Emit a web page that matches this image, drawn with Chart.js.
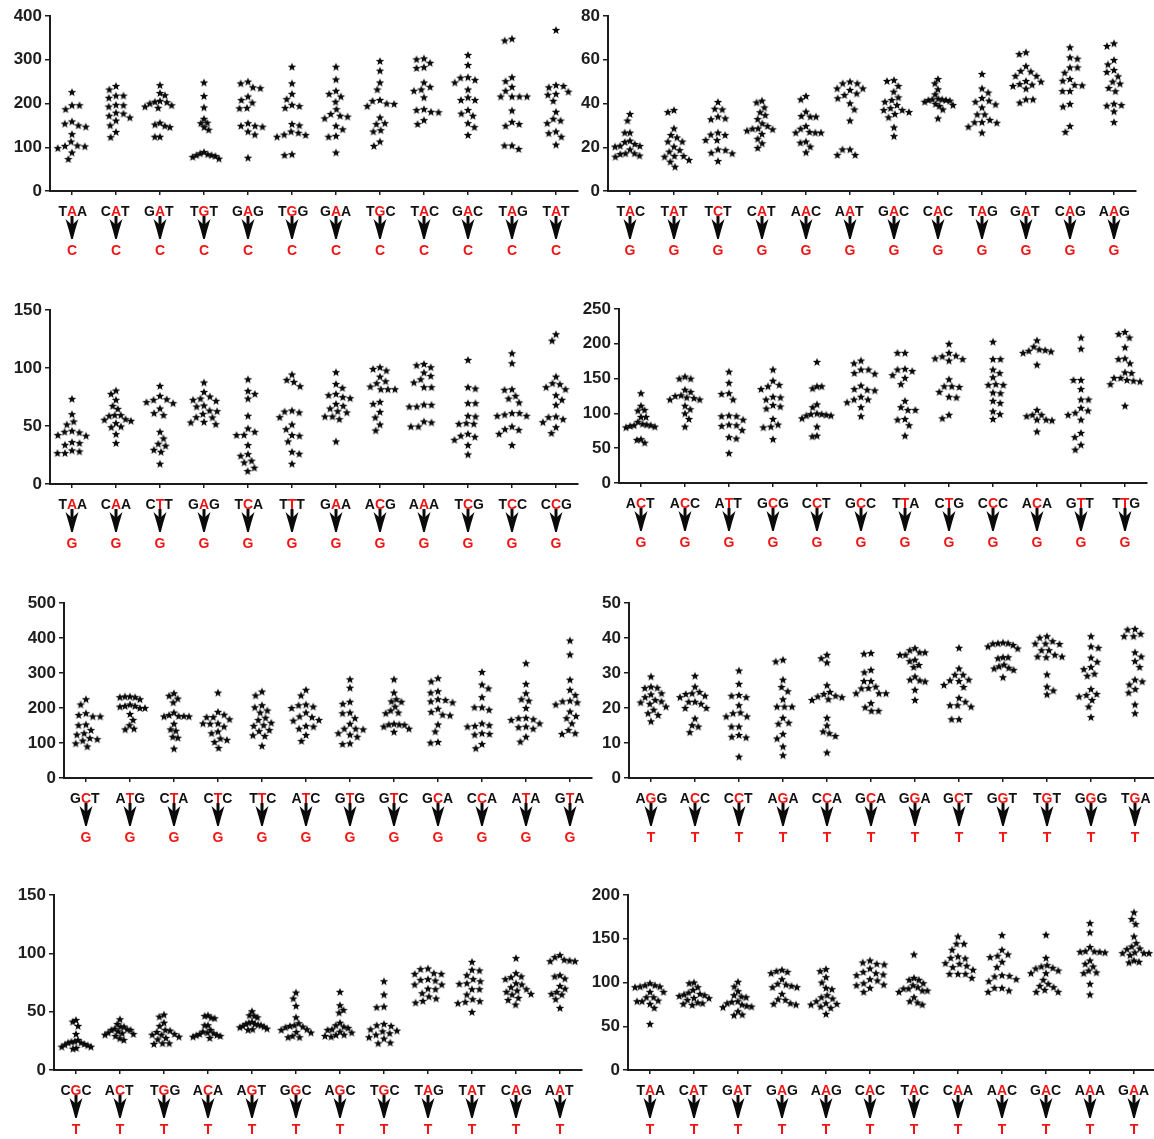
<!DOCTYPE html>
<html>
<head>
<meta charset="utf-8">
<title>Substitution rates by trinucleotide context</title>
<script src="https://cdn.jsdelivr.net/npm/chart.js@4.4.1/dist/chart.umd.min.js"></script>
<style>
  html, body { margin: 0; padding: 0; background: #fff; overflow: hidden; }
  body { width: 1154px; height: 1139px; position: relative; }
  canvas { position: absolute; }
</style>
</head>
<body>
<script>
/* ===== Data ===== */
const p1Codons = ['TAA', 'CAT', 'GAT', 'TGT', 'GAG', 'TGG', 'GAA', 'TGC', 'TAC', 'GAC', 'TAG', 'TAT'];
const p1To = 'C';
const p1Ticks = [0, 100, 200, 300, 400];
const p1Values = [
  [226, 196, 196, 187, 159, 154, 150, 147, 130, 113, 104, 103, 102, 98, 88, 73],
  [240, 232, 218, 213, 218, 196, 193, 197, 179, 177, 172, 168, 161, 150, 135, 123],
  [242, 224, 219, 206, 204, 200, 193, 190, 196, 203, 156, 149, 146, 152, 124, 124],
  [248, 217, 191, 165, 155, 140, 146, 156, 86, 84, 89, 80, 78, 74, 82, 82],
  [250, 246, 237, 235, 216, 208, 202, 190, 189, 155, 149, 147, 149, 136, 129, 76],
  [284, 246, 222, 210, 194, 190, 197, 153, 150, 133, 128, 124, 129, 136, 82, 84],
  [284, 255, 229, 222, 216, 204, 187, 176, 172, 170, 166, 149, 141, 126, 124, 88],
  [297, 275, 248, 232, 208, 200, 194, 199, 206, 168, 155, 153, 139, 136, 113, 103],
  [303, 301, 293, 283, 281, 248, 232, 238, 229, 214, 187, 181, 180, 185, 153, 162],
  [311, 288, 260, 254, 248, 259, 232, 214, 208, 208, 185, 177, 172, 155, 146, 128],
  [344, 348, 260, 251, 238, 229, 216, 216, 216, 216, 184, 153, 149, 158, 104, 96, 104],
  [368, 242, 237, 227, 222, 220, 240, 206, 181, 165, 155, 161, 132, 124, 136, 106]
];

const p2Codons = ['TAC', 'TAT', 'TCT', 'CAT', 'AAC', 'AAT', 'GAC', 'CAC', 'TAG', 'GAT', 'CAG', 'AAG'];
const p2To = 'G';
const p2Ticks = [0, 20, 40, 60, 80];
const p2Values = [
  [35.2, 32.2, 26.7, 26.7, 23.0, 22.4, 21.5, 20.6, 20.3, 20.7, 19.0, 17.2, 16.9, 15.7, 17.2, 16.2],
  [37.0, 36.1, 28.6, 25.6, 24.5, 22.6, 22.6, 20.3, 18.7, 18.0, 16.0, 15.7, 14.2, 13.4, 16.0, 11.1],
  [40.7, 37.3, 37.6, 33.2, 32.8, 34.0, 26.7, 25.6, 25.8, 23.3, 23.3, 19.0, 18.7, 17.5, 17.2, 13.7],
  [41.3, 40.5, 38.2, 34.7, 36.0, 32.9, 30.9, 29.7, 28.5, 28.2, 28.6, 27.6, 26.1, 23.9, 21.8, 19.7],
  [43.4, 41.9, 36.3, 34.0, 34.0, 34.3, 29.7, 28.5, 26.7, 26.7, 26.7, 27.0, 22.6, 22.1, 20.3, 17.7],
  [50.0, 49.2, 46.9, 46.2, 46.9, 49.2, 43.9, 42.4, 44.6, 40.1, 37.3, 32.2, 19.0, 16.5, 16.5, 19.0],
  [50.3, 50.7, 48.0, 45.4, 41.6, 42.8, 40.8, 39.3, 37.9, 37.0, 37.0, 35.2, 33.7, 29.1, 25.1, 36.1],
  [51.2, 49.2, 46.5, 44.2, 41.9, 41.6, 41.3, 41.9, 42.2, 40.8, 39.8, 38.9, 39.3, 37.3, 33.2, 41.6],
  [53.5, 46.9, 45.0, 42.5, 40.8, 39.6, 38.2, 41.3, 35.0, 35.0, 32.5, 31.2, 31.4, 29.4, 31.5, 26.7],
  [62.6, 63.4, 57.1, 54.6, 54.9, 52.6, 52.6, 50.3, 48.9, 48.0, 46.8, 48.6, 50.0, 41.9, 40.4, 41.9],
  [65.7, 61.1, 60.5, 56.5, 56.5, 51.2, 50.4, 54.1, 48.3, 45.7, 45.7, 48.5, 39.8, 38.6, 27.0, 29.7],
  [66.3, 67.5, 59.9, 57.9, 55.3, 54.4, 52.4, 50.0, 49.1, 47.1, 45.6, 39.9, 39.0, 39.3, 36.4, 31.5]
];

const p3Codons = ['TAA', 'CAA', 'CTT', 'GAG', 'TCA', 'TTT', 'GAA', 'ACG', 'AAA', 'TCG', 'TCC', 'CCG'];
const p3To = 'G';
const p3Ticks = [0, 50, 100, 150];
const p3Values = [
  [73.4, 60.2, 53.9, 51.3, 45.9, 44.5, 42.2, 41.6, 45.0, 35.3, 33.8, 36.1, 28.1, 26.7, 26.7, 29.0],
  [80.6, 77.7, 72.6, 67.4, 64.8, 55.9, 55.4, 59.4, 59.4, 58.8, 54.5, 52.5, 49.6, 49.0, 43.0, 35.3],
  [84.6, 76.0, 70.6, 69.7, 72.6, 73.1, 65.1, 61.1, 59.4, 45.0, 39.3, 34.7, 33.0, 29.5, 27.8, 17.5],
  [87.5, 79.4, 72.6, 71.7, 75.4, 73.7, 66.8, 67.7, 63.4, 62.8, 60.5, 57.4, 57.6, 53.6, 53.1, 51.6],
  [90.3, 80.3, 77.7, 73.7, 58.8, 47.9, 42.4, 42.2, 45.0, 33.6, 25.8, 24.4, 18.6, 20.1, 14.1, 11.2],
  [94.4, 88.0, 84.3, 89.8, 62.5, 61.7, 63.4, 57.6, 51.3, 47.3, 42.2, 41.6, 36.7, 27.8, 26.1, 17.5],
  [96.4, 86.3, 82.9, 77.7, 76.6, 74.9, 74.0, 69.1, 67.4, 65.1, 62.8, 61.7, 58.2, 55.9, 58.2, 36.7],
  [100.7, 99.2, 97.8, 92.6, 88.6, 86.9, 84.0, 81.7, 81.7, 81.7, 70.8, 69.1, 62.2, 57.4, 51.3, 46.2],
  [103.5, 102.4, 100.7, 96.1, 93.2, 90.3, 87.5, 83.5, 83.5, 68.3, 66.8, 66.8, 68.5, 53.1, 49.6, 49.6, 53.9],
  [107.0, 83.5, 82.3, 69.7, 69.7, 58.2, 58.8, 51.9, 51.9, 52.5, 43.3, 41.6, 40.7, 38.1, 33.6, 25.5],
  [112.7, 104.1, 81.2, 81.7, 76.0, 73.7, 70.3, 59.9, 58.8, 58.8, 61.1, 61.1, 49.6, 46.7, 43.3, 47.3, 33.6],
  [123.6, 129.1, 92.6, 86.9, 86.0, 83.5, 81.7, 76.6, 72.6, 68.3, 58.2, 57.6, 55.9, 53.3, 49.0, 43.9]
];

const p4Codons = ['ACT', 'ACC', 'ATT', 'GCG', 'CCT', 'GCC', 'TTA', 'CTG', 'CCC', 'ACA', 'GTT', 'TTG'];
const p4To = 'G';
const p4Ticks = [0, 50, 100, 150, 200, 250];
const p4Values = [
  [129, 111, 104, 105, 95, 95, 88, 85, 84, 83, 82, 81, 80, 83, 63, 58, 62],
  [153, 150, 150, 134, 131, 125, 123, 120, 120, 122, 111, 106, 100, 92, 81, 126],
  [160, 144, 129, 128, 120, 96, 96, 97, 91, 84, 83, 82, 76, 66, 64, 43],
  [163, 147, 139, 135, 141, 124, 120, 123, 112, 110, 107, 92, 81, 80, 84, 63],
  [174, 139, 136, 139, 113, 109, 100, 97, 97, 98, 99, 93, 81, 67, 68, 99],
  [176, 172, 163, 158, 157, 163, 140, 135, 133, 134, 120, 120, 116, 109, 96, 124],
  [187, 187, 163, 161, 164, 155, 151, 142, 118, 109, 105, 105, 91, 92, 83, 68],
  [200, 187, 182, 179, 176, 178, 183, 149, 139, 139, 138, 131, 124, 123, 93, 98],
  [203, 178, 178, 163, 158, 152, 141, 141, 142, 129, 130, 118, 115, 103, 99, 92],
  [205, 192, 190, 187, 189, 191, 196, 170, 105, 98, 96, 91, 90, 91, 98, 74],
  [209, 193, 148, 148, 135, 120, 120, 108, 104, 101, 98, 91, 72, 66, 55, 48],
  [217, 214, 209, 195, 179, 178, 172, 159, 158, 151, 148, 147, 142, 146, 151, 111]
];

const p5Codons = ['GCT', 'ATG', 'CTA', 'CTC', 'TTC', 'ATC', 'GTG', 'GTC', 'GCA', 'CCA', 'ATA', 'GTA'];
const p5To = 'G';
const p5Ticks = [0, 100, 200, 300, 400, 500];
const p5Values = [
  [225, 210, 176, 176, 180, 185, 153, 151, 137, 128, 124, 114, 111, 99, 90, 107],
  [233, 231, 225, 231, 233, 206, 204, 200, 200, 206, 183, 166, 151, 141, 139, 210],
  [242, 235, 227, 216, 187, 177, 176, 176, 180, 177, 155, 139, 135, 118, 115, 84],
  [244, 189, 174, 174, 168, 181, 156, 156, 155, 147, 133, 113, 109, 103, 86, 128],
  [247, 236, 208, 202, 193, 187, 172, 166, 158, 151, 149, 137, 134, 122, 120, 92],
  [252, 236, 210, 204, 200, 208, 187, 176, 174, 166, 164, 147, 141, 149, 123, 106],
  [282, 258, 218, 212, 187, 185, 171, 155, 141, 141, 128, 124, 118, 139, 99, 97],
  [282, 244, 225, 218, 219, 204, 193, 185, 187, 153, 147, 152, 153, 141, 132, 155],
  [285, 276, 248, 244, 223, 219, 216, 225, 198, 189, 179, 181, 153, 133, 101, 103],
  [303, 267, 256, 231, 202, 195, 202, 156, 149, 151, 147, 128, 124, 126, 97, 85],
  [328, 269, 242, 225, 221, 200, 171, 166, 168, 172, 145, 141, 147, 156, 118, 104],
  [393, 353, 281, 252, 237, 219, 210, 216, 190, 177, 171, 156, 137, 126, 128, 221]
];

const p6Codons = ['AGG', 'ACC', 'CCT', 'AGA', 'CCA', 'GCA', 'GGA', 'GCT', 'GGT', 'TGT', 'GGG', 'TGA'];
const p6To = 'T';
const p6Ticks = [0, 10, 20, 30, 40, 50];
const p6Values = [
  [29.0, 26.1, 25.7, 25.8, 24.2, 23.9, 23.1, 22.3, 21.9, 21.2, 21.6, 20.4, 19.5, 18.5, 18.0, 16.2],
  [29.2, 26.1, 24.6, 24.2, 23.5, 24.0, 21.8, 21.2, 20.0, 20.0, 17.0, 15.1, 14.7, 13.1, 23.1, 21.8],
  [30.7, 26.9, 23.7, 23.1, 23.5, 20.8, 18.7, 17.6, 17.6, 14.7, 14.7, 11.8, 11.6, 12.3, 6.1, 18.5],
  [33.3, 33.8, 28.1, 26.0, 24.8, 22.5, 20.4, 20.4, 20.4, 17.2, 15.8, 15.5, 12.6, 11.3, 9.0, 6.5],
  [34.2, 33.0, 35.2, 26.5, 24.6, 23.5, 23.1, 22.5, 22.3, 23.3, 24.0, 17.2, 15.0, 13.3, 12.8, 12.0, 7.3],
  [35.5, 35.7, 30.9, 30.2, 27.7, 27.7, 26.1, 25.7, 25.6, 24.2, 24.2, 24.2, 21.4, 20.2, 19.2, 19.2],
  [37.1, 35.9, 36.5, 35.9, 35.2, 33.4, 33.8, 32.3, 31.7, 29.0, 27.6, 27.9, 28.1, 25.2, 22.3, 35.2],
  [37.2, 31.3, 29.5, 29.5, 28.1, 27.9, 27.7, 26.6, 26.0, 22.9, 21.8, 20.8, 20.4, 20.8, 16.8, 16.8],
  [38.7, 38.5, 38.4, 38.0, 38.5, 37.6, 37.0, 34.5, 34.5, 34.2, 32.4, 31.9, 31.3, 30.9, 28.8, 31.5],
  [40.5, 40.1, 39.1, 38.4, 38.4, 38.3, 36.5, 36.5, 34.7, 34.7, 34.5, 35.2, 29.6, 26.1, 23.9, 25.0],
  [40.5, 37.2, 37.6, 34.4, 33.2, 31.7, 31.1, 29.8, 29.2, 25.4, 24.0, 23.7, 22.3, 23.3, 20.4, 17.4],
  [42.6, 42.4, 41.2, 40.5, 40.5, 35.9, 34.7, 33.4, 31.7, 28.1, 27.6, 26.7, 25.4, 24.4, 21.0, 18.5]
];

const p7Codons = ['CGC', 'ACT', 'TGG', 'ACA', 'AGT', 'GGC', 'AGC', 'TGC', 'TAG', 'TAT', 'CAG', 'AAT'];
const p7To = 'T';
const p7Ticks = [0, 50, 100, 150];
const p7Values = [
  [42.9, 41.5, 37.8, 30.9, 25.8, 24.3, 23.5, 22.3, 21.2, 20.0, 18.9, 18.3, 20.0, 21.8, 23.5, 24.6],
  [43.5, 39.5, 37.2, 35.5, 34.9, 34.4, 33.2, 32.1, 31.5, 30.3, 29.2, 27.2, 25.8, 34.4, 37.2, 30.9],
  [47.5, 45.8, 40.6, 37.8, 33.8, 32.6, 30.9, 30.3, 30.3, 28.6, 27.5, 26.3, 22.9, 22.3, 22.9, 34.4],
  [46.9, 46.4, 44.9, 44.4, 38.4, 38.4, 34.4, 32.1, 30.9, 29.8, 28.6, 27.5, 29.2, 31.5, 32.9, 30.1],
  [50.4, 46.9, 46.4, 45.2, 41.2, 39.5, 38.9, 37.8, 36.6, 35.5, 34.4, 37.2, 38.4, 39.5, 40.6, 34.9],
  [66.4, 61.3, 55.0, 45.2, 40.1, 38.4, 37.8, 37.2, 32.6, 32.1, 29.2, 28.1, 28.1, 34.4, 36.6, 34.9],
  [67.0, 55.5, 51.5, 49.2, 40.6, 38.4, 37.2, 36.1, 34.4, 32.1, 30.3, 29.2, 28.6, 30.1, 32.9, 34.9],
  [76.1, 64.7, 54.4, 53.8, 39.5, 38.4, 37.8, 34.9, 33.8, 33.2, 31.5, 30.3, 28.1, 26.9, 23.5, 22.9],
  [86.5, 87.0, 83.0, 82.4, 82.4, 77.3, 76.7, 77.9, 73.3, 73.3, 69.8, 69.3, 65.8, 63.0, 61.3, 57.8, 59.2],
  [92.7, 85.3, 85.9, 81.3, 77.9, 76.1, 74.4, 73.9, 69.3, 69.3, 64.7, 60.7, 58.4, 57.3, 59.0, 49.8],
  [95.9, 83.0, 80.2, 79.6, 77.9, 74.4, 73.3, 71.0, 69.3, 68.1, 67.0, 65.3, 64.7, 61.8, 60.1, 56.1],
  [98.5, 96.8, 93.9, 93.3, 93.3, 94.5, 80.2, 81.3, 78.4, 72.1, 69.8, 67.0, 65.3, 64.7, 60.7, 53.2]
];

const p8Codons = ['TAA', 'CAT', 'GAT', 'GAG', 'AAG', 'CAC', 'TAC', 'CAA', 'AAC', 'GAC', 'AAA', 'GAA'];
const p8To = 'T';
const p8Ticks = [0, 50, 100, 150, 200];
const p8Values = [
  [99.2, 96.9, 95.4, 95.4, 94.7, 96.9, 89.3, 89.3, 83.2, 83.2, 78.6, 79.4, 75.6, 71.0, 78.6, 52.7],
  [100.0, 99.2, 94.7, 91.6, 87.0, 85.5, 84.7, 86.3, 88.5, 82.4, 80.2, 77.1, 75.6, 74.4, 76.3, 82.1],
  [100.8, 95.4, 90.1, 85.5, 84.0, 83.2, 78.6, 77.9, 76.3, 74.8, 72.5, 71.8, 73.3, 67.2, 63.4, 62.6],
  [114.5, 112.2, 110.7, 113.0, 103.8, 97.7, 96.2, 94.7, 98.5, 94.7, 87.0, 80.2, 80.9, 75.6, 74.8, 76.3],
  [113.0, 115.3, 106.1, 100.0, 93.9, 92.4, 85.5, 83.2, 81.7, 78.6, 76.3, 74.8, 75.6, 72.5, 71.0, 64.1],
  [125.2, 121.4, 120.6, 122.9, 109.2, 110.7, 112.2, 116.0, 102.3, 99.2, 97.7, 96.9, 93.9, 89.3, 103.8, 108.4],
  [132.1, 105.3, 103.1, 103.1, 99.2, 96.9, 94.7, 93.1, 90.8, 89.3, 90.8, 93.1, 83.2, 78.6, 77.1, 74.8],
  [152.7, 144.3, 144.3, 137.4, 129.8, 127.5, 128.2, 121.4, 122.1, 117.6, 119.1, 114.5, 109.9, 109.9, 105.3, 109.9],
  [154.2, 137.4, 132.1, 130.5, 129.0, 123.7, 117.6, 106.9, 103.8, 101.5, 108.4, 93.9, 90.8, 89.3, 93.9, 107.6],
  [154.6, 128.2, 118.3, 116.8, 116.0, 110.7, 113.7, 119.8, 103.1, 98.5, 96.2, 91.6, 89.3, 89.3, 94.7, 110.7],
  [167.9, 157.3, 140.5, 135.5, 134.4, 135.1, 135.9, 125.2, 121.4, 118.3, 113.7, 110.7, 111.5, 98.5, 86.3, 135.1],
  [180.2, 172.5, 166.8, 152.7, 141.2, 145.0, 138.2, 138.9, 134.4, 133.6, 133.6, 133.6, 131.3, 125.2, 122.9, 123.7]
];

/* ===== Panel placement (pixels on the page) ===== */
const panels = [
  { codons: p1Codons, to: p1To, ticks: p1Ticks, values: p1Values, left: 0,   axisX: 50,  plotTop: 16,  plotBottom: 191 },
  { codons: p2Codons, to: p2To, ticks: p2Ticks, values: p2Values, left: 577, axisX: 608, plotTop: 16,  plotBottom: 191 },
  { codons: p3Codons, to: p3To, ticks: p3Ticks, values: p3Values, left: 0,   axisX: 50,  plotTop: 310, plotBottom: 484 },
  { codons: p4Codons, to: p4To, ticks: p4Ticks, values: p4Values, left: 577, axisX: 619, plotTop: 309, plotBottom: 483 },
  { codons: p5Codons, to: p5To, ticks: p5Ticks, values: p5Values, left: 0,   axisX: 64,  plotTop: 603, plotBottom: 778 },
  { codons: p6Codons, to: p6To, ticks: p6Ticks, values: p6Values, left: 577, axisX: 629, plotTop: 603, plotBottom: 778 },
  { codons: p7Codons, to: p7To, ticks: p7Ticks, values: p7Values, left: 0,   axisX: 54,  plotTop: 895, plotBottom: 1070 },
  { codons: p8Codons, to: p8To, ticks: p8Ticks, values: p8Values, left: 577, axisX: 628, plotTop: 895, plotBottom: 1070 }
];

const BAND = 44;          // px per category
const TOP_PAD = 16;
const LABEL_AREA = 72;
const CANVAS_W = 600;
const AXIS_COLOR = '#1c1c1c';
const TEXT_COLOR = '#111';
const RED = '#f01414';
const FONT = '"Liberation Sans", Arial, sans-serif';
const STAR_GAP = 7.5;     // collision diameter for spreading stars
const MAX_SPREAD = 15;    // half width of a column of stars

/* ===== Filled 5-point star used as the point style ===== */
function makeStar() {
  const c = document.createElement('canvas');
  c.width = 10; c.height = 10;
  const g = c.getContext('2d');
  g.fillStyle = '#0a0a0a';
  g.beginPath();
  for (let k = 0; k < 10; k++) {
    const r = k % 2 === 0 ? 4.4 : 1.9;
    const a = -Math.PI / 2 + k * Math.PI / 5;
    const px = 5 + r * Math.cos(a), py = 5.4 + r * Math.sin(a);
    if (k === 0) g.moveTo(px, py); else g.lineTo(px, py);
  }
  g.closePath();
  g.fill();
  return c;
}
const starImg = makeStar();

/* ===== Arrow + codon labels under the x axis ===== */
function drawArrow(ctx, cx, y0) {
  ctx.fillStyle = '#0a0a0a';
  ctx.fillRect(cx - 1.5, y0, 3, 9);
  ctx.beginPath();
  ctx.moveTo(cx - 6.5, y0 + 3);
  ctx.lineTo(cx, y0 + 9);
  ctx.lineTo(cx + 6.5, y0 + 3);
  ctx.quadraticCurveTo(cx + 3, y0 + 14, cx + 0.8, y0 + 23);
  ctx.lineTo(cx - 0.8, y0 + 23);
  ctx.quadraticCurveTo(cx - 3, y0 + 14, cx - 6.5, y0 + 3);
  ctx.closePath();
  ctx.fill();
}

const codonLabels = {
  id: 'codonLabels',
  afterDraw(chart, args, opts) {
    const { ctx, chartArea } = chart;
    const x = chart.scales.x;
    const bottom = chartArea.bottom;
    ctx.save();
    ctx.font = 'bold 14px ' + FONT;
    ctx.textBaseline = 'middle';
    opts.codons.forEach((codon, i) => {
      const cx = x.getPixelForValue(i);
      drawArrow(ctx, cx, bottom + 25);
      const letters = codon.split('');
      const widths = letters.map(l => ctx.measureText(l).width);
      // centre the middle (mutated) letter on the category
      let px = cx - widths[1] / 2 - widths[0];
      ctx.textAlign = 'left';
      letters.forEach((l, k) => {
        ctx.fillStyle = k === 1 ? RED : TEXT_COLOR;
        ctx.fillText(l, px, bottom + 21);
        px += widths[k];
      });
      ctx.textAlign = 'center';
      ctx.fillStyle = RED;
      ctx.fillText(opts.to, cx, bottom + 60);
    });
    ctx.restore();
  }
};

/* ===== Beeswarm spread: horizontal offsets (px) from pixel y positions ===== */
function swarm(ys, d) {
  const order = ys.map((_, i) => i).sort((a, b) => ys[a] - ys[b]);
  const placed = [];
  const dx = new Array(ys.length).fill(0);
  order.forEach((i, n) => {
    const y = ys[i];
    const cands = [0];
    placed.forEach(p => {
      const dy = Math.abs(p.y - y);
      if (dy < d) {
        const w = Math.sqrt(d * d - dy * dy);
        cands.push(p.x + w, p.x - w);
      }
    });
    cands.sort((a, b) => Math.abs(a) - Math.abs(b) || (n % 2 ? a - b : b - a));
    let best = 0;
    for (const c of cands) {
      if (placed.every(p => (p.x - c) ** 2 + (p.y - y) ** 2 >= d * d - 0.01)) { best = c; break; }
    }
    placed.push({ x: best, y });
    dx[i] = best;
  });
  // keep the column inside its band
  const widest = Math.max(...dx.map(Math.abs));
  const k = widest > MAX_SPREAD ? MAX_SPREAD / widest : 1;
  return dx.map(v => v * k);
}

/* ===== Build the eight panels ===== */
panels.forEach(p => {
  const canvasTop = p.plotTop - TOP_PAD;
  const plotH = p.plotBottom - p.plotTop;
  const canvasH = TOP_PAD + plotH + LABEL_AREA;
  const plotRight = p.axisX + BAND * 12;
  const canvasW = Math.max(CANVAS_W, plotRight - p.left + 2);

  const cv = document.createElement('canvas');
  cv.width = canvasW; cv.height = canvasH;
  cv.style.left = p.left + 'px';
  cv.style.top = canvasTop + 'px';
  cv.style.width = canvasW + 'px';
  cv.style.height = canvasH + 'px';
  document.body.appendChild(cv);

  const ymax = p.ticks[p.ticks.length - 1];
  const chart = new Chart(cv, {
    type: 'scatter',
    data: {
      datasets: [{
        data: p.values.flatMap((col, i) => col.map(v => ({ x: i, y: v }))),
        pointStyle: starImg,
        pointRadius: 5,
        pointHoverRadius: 5,
        backgroundColor: '#000',
        borderWidth: 0
      }]
    },
    options: {
      responsive: false,
      animation: false,
      devicePixelRatio: 1,
      events: [],
      layout: { padding: { left: 0, top: TOP_PAD, right: canvasW - (plotRight - p.left), bottom: 0 } },
      plugins: {
        legend: { display: false },
        tooltip: { enabled: false },
        codonLabels: { codons: p.codons, to: p.to }
      },
      scales: {
        x: {
          type: 'linear',
          min: -0.5,
          max: 11.5,
          grid: { display: true, drawOnChartArea: false, drawTicks: true, tickLength: 4, color: AXIS_COLOR, lineWidth: 1.5 },
          border: { display: true, color: AXIS_COLOR, width: 2 },
          ticks: { display: false },
          afterBuildTicks: s => { s.ticks = p.codons.map((c, i) => ({ value: i })); },
          afterFit: s => { s.height = LABEL_AREA; }
        },
        y: {
          min: 0,
          max: ymax,
          grid: { display: true, drawOnChartArea: false, drawTicks: true, tickLength: 5, color: AXIS_COLOR, lineWidth: 1.5 },
          border: { display: true, color: AXIS_COLOR, width: 2 },
          ticks: { color: '#1e1e1e', padding: 3, font: { family: FONT, size: 17, weight: 'bold' } },
          afterBuildTicks: s => { s.ticks = p.ticks.map(v => ({ value: v })); },
          afterFit: s => { s.width = p.axisX - p.left; }
        }
      }
    },
    plugins: [codonLabels]
  });

  // spread stars sideways like a dot plot, using the chart's own scales
  const xs = chart.scales.x, ys = chart.scales.y;
  const unit = xs.getPixelForValue(1) - xs.getPixelForValue(0);
  chart.data.datasets[0].data = p.values.flatMap((col, i) => {
    const dx = swarm(col.map(v => ys.getPixelForValue(v)), STAR_GAP);
    return col.map((v, k) => ({ x: i + dx[k] / unit, y: v }));
  });
  chart.update('none');
});
</script>
</body>
</html>
